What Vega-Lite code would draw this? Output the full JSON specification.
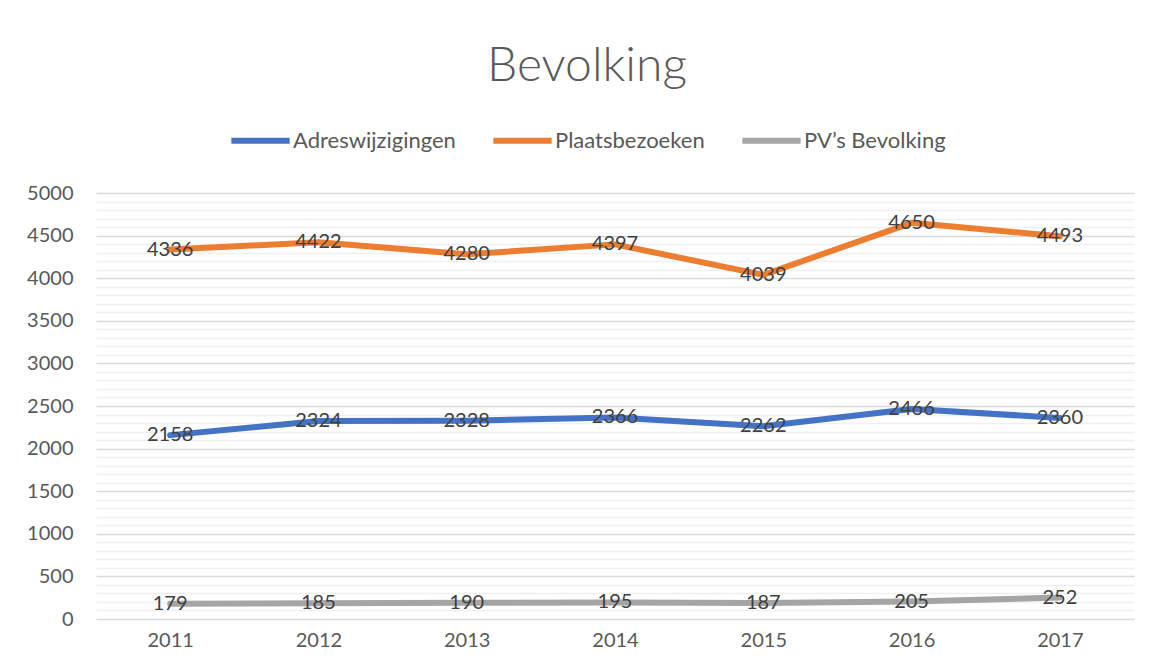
{
  "$schema": "https://vega.github.io/schema/vega-lite/v6.json",
  "autosize": "none",
  "width": 1038,
  "height": 426,
  "padding": {"left": 96, "top": 193, "right": 22, "bottom": 51},
  "background": "white",
  "config": {
    "font": "Lato",
    "view": {"stroke": null}
  },
  "title": {
    "text": "Bevolking",
    "font": "Lato",
    "fontSize": 48,
    "fontWeight": 300,
    "color": "#595959",
    "anchor": "middle",
    "baseline": "alphabetic",
    "offset": -21,
    "dx": -28
  },
  "data": {
    "values": [
      {"year": "2011", "series": "Adreswijzigingen", "value": 2158},
      {"year": "2012", "series": "Adreswijzigingen", "value": 2324},
      {"year": "2013", "series": "Adreswijzigingen", "value": 2328},
      {"year": "2014", "series": "Adreswijzigingen", "value": 2366},
      {"year": "2015", "series": "Adreswijzigingen", "value": 2262},
      {"year": "2016", "series": "Adreswijzigingen", "value": 2466},
      {"year": "2017", "series": "Adreswijzigingen", "value": 2360},
      {"year": "2011", "series": "Plaatsbezoeken", "value": 4336},
      {"year": "2012", "series": "Plaatsbezoeken", "value": 4422},
      {"year": "2013", "series": "Plaatsbezoeken", "value": 4280},
      {"year": "2014", "series": "Plaatsbezoeken", "value": 4397},
      {"year": "2015", "series": "Plaatsbezoeken", "value": 4039},
      {"year": "2016", "series": "Plaatsbezoeken", "value": 4650},
      {"year": "2017", "series": "Plaatsbezoeken", "value": 4493},
      {"year": "2011", "series": "PV’s Bevolking", "value": 179},
      {"year": "2012", "series": "PV’s Bevolking", "value": 185},
      {"year": "2013", "series": "PV’s Bevolking", "value": 190},
      {"year": "2014", "series": "PV’s Bevolking", "value": 195},
      {"year": "2015", "series": "PV’s Bevolking", "value": 187},
      {"year": "2016", "series": "PV’s Bevolking", "value": 205},
      {"year": "2017", "series": "PV’s Bevolking", "value": 252}
    ]
  },
  "encoding": {
    "x": {
      "field": "year",
      "type": "ordinal",
      "scale": {"type": "point", "padding": 0.5},
      "axis": {
        "title": null,
        "labelAngle": 0,
        "labelFont": "Lato",
        "labelFontSize": 20,
        "labelColor": "#595959",
        "labelPadding": 11,
        "ticks": false,
        "domain": false,
        "grid": false
      }
    },
    "y": {
      "field": "value",
      "type": "quantitative",
      "scale": {"domain": [0, 5000], "nice": false},
      "axis": {
        "title": null,
        "values": [0,100,200,300,400,500,600,700,800,900,1000,1100,1200,1300,1400,1500,1600,1700,1800,1900,2000,2100,2200,2300,2400,2500,2600,2700,2800,2900,3000,3100,3200,3300,3400,3500,3600,3700,3800,3900,4000,4100,4200,4300,4400,4500,4600,4700,4800,4900,5000],
        "labelExpr": "datum.value % 500 === 0 ? datum.label : ''",
        "format": "d",
        "labelFont": "Lato",
        "labelFontSize": 20,
        "labelColor": "#595959",
        "labelPadding": 23,
        "ticks": false,
        "domain": false,
        "grid": true,
        "gridColor": {"condition": {"test": "datum.value % 500 === 0", "value": "#d9d9d9"}, "value": "#f0f0f0"},
        "gridWidth": {"condition": {"test": "datum.value % 500 === 0", "value": 1.3}, "value": 1.5}
      }
    }
  },
  "layer": [
    {
      "mark": {"type": "line", "strokeWidth": 6, "strokeCap": "round", "strokeJoin": "round"},
      "encoding": {
        "color": {
          "field": "series",
          "type": "nominal",
          "scale": {
            "domain": ["Adreswijzigingen", "Plaatsbezoeken", "PV’s Bevolking"],
            "range": ["#4472C4", "#ED7D31", "#A5A5A5"]
          },
          "legend": {
            "title": null,
            "orient": "none",
            "direction": "horizontal",
            "legendX": 132,
            "legendY": -85,
            "symbolType": "stroke",
            "symbolSize": 3400,
            "symbolStrokeWidth": 6,
            "labelFont": "Lato",
            "labelFontSize": 22,
            "labelColor": "#595959",
            "labelOffset": 0,
            "columnPadding": 25,
            "labelLimit": 400
          }
        }
      }
    },
    {
      "mark": {"type": "text", "fontSize": 20, "font": "Lato", "color": "#404040", "baseline": "middle", "align": "center"},
      "encoding": {
        "text": {"field": "value", "type": "quantitative", "format": "d"}
      }
    }
  ]
}
